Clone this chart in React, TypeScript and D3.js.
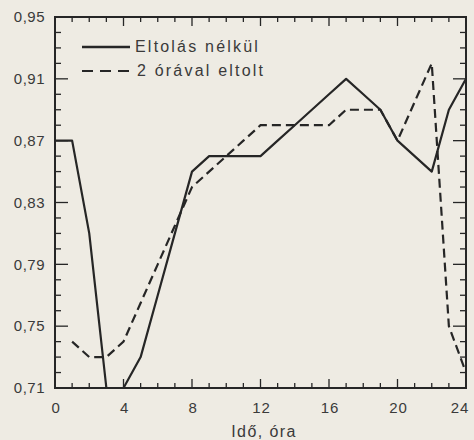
import React from "react";
import * as d3 from "d3";

const hours = [0,1,2,3,4,5,6,7,8,9,10,11,12,13,14,15,16,17,18,19,20,21,22,23,24];
const solidSeries = [0.87,0.87,0.81,0.71,0.71,0.73,0.77,0.81,0.85,0.86,0.86,0.86,0.86,0.87,0.88,0.89,0.90,0.91,0.90,0.89,0.87,0.86,0.85,0.89,0.91];
const dashedSeries = [null,0.74,0.73,0.73,0.74,0.765,0.79,0.815,0.84,0.85,0.86,0.87,0.88,0.88,0.88,0.88,0.88,0.89,0.89,0.89,0.87,0.895,0.92,0.75,0.72];
const xTickLabels = [0,4,8,12,16,20,24];
const yTickLabels = [0.71,0.75,0.79,0.83,0.87,0.91,0.95];
const legendLabels = ["Eltolás nélkül", "2 órával eltolt"];
const xTitle = "Idő, óra";

const W = 474, H = 440;
const INK = "#262626";
const TXT = "#3a3a3a";
const FONT = "'Liberation Sans', Arial, sans-serif";

export default function App() {
  const x = d3.scaleLinear().domain([0, 24]).range([55, 466]);
  const y = d3.scaleLinear().domain([0.71, 0.95]).range([388, 17]);

  const line = d3.line<[number, number | null]>()
    .defined(d => d[1] !== null)
    .x(d => x(d[0]))
    .y(d => y(d[1] as number));

  const solidPath = line(hours.map((h, i) => [h, solidSeries[i]]));
  const dashedPath = line(hours.map((h, i) => [h, dashedSeries[i]]));

  const xMinor = d3.range(0, 25, 1);
  const yMinor = d3.range(0, 25).map(i => +(0.71 + i * 0.01).toFixed(2));
  const isYMajor = (v: number) => yTickLabels.some(t => Math.abs(t - v) < 1e-6);

  const [x0, x1] = x.range();
  const [y0, y1] = y.range(); // y0 bottom, y1 top

  const fmt = (v: number) => v.toFixed(2).replace(".", ",");

  return (
    <svg width={W} height={H} style={{ position: "absolute", left: 0, top: 0, display: "block" }}>
      <rect x={0} y={0} width={W} height={H} fill="#eeebe3" />
      {/* ticks */}
      <g stroke={INK} strokeWidth={1.3}>
        {xMinor.map(h => {
          const major = h % 4 === 0;
          const len = major ? 9 : 5;
          return (
            <g key={"xt" + h}>
              <line x1={x(h)} x2={x(h)} y1={y0} y2={y0 - len} />
              <line x1={x(h)} x2={x(h)} y1={y1} y2={y1 + len} />
            </g>
          );
        })}
        {yMinor.map(v => {
          const major = isYMajor(v);
          const len = major ? 13 : 6;
          return (
            <g key={"yt" + v}>
              <line x1={x0} x2={x0 + len} y1={y(v)} y2={y(v)} />
              <line x1={x1} x2={x1 - len} y1={y(v)} y2={y(v)} />
            </g>
          );
        })}
      </g>
      {/* frame */}
      <rect x={x0} y={y1} width={x1 - x0} height={y0 - y1} fill="none" stroke={INK} strokeWidth={2} />
      {/* data */}
      <path d={solidPath || ""} fill="none" stroke={INK} strokeWidth={2.2} strokeLinejoin="round" />
      <path d={dashedPath || ""} fill="none" stroke={INK} strokeWidth={2.2} strokeDasharray="9 5" />
      {/* y labels */}
      <g fontFamily={FONT} fontSize={15} fill={TXT}>
        {yTickLabels.map(v => (
          <text key={"yl" + v} x={45} y={y(v)} dy="0.35em" textAnchor="end" letterSpacing={0.5}>{fmt(v)}</text>
        ))}
        {xTickLabels.map(h => (
          <text key={"xl" + h} x={Math.min(x(h) + 1, W - 14)} y={413} textAnchor="middle" letterSpacing={0.8}>{h}</text>
        ))}
        <text x={264} y={437} textAnchor="middle" fontSize={16} letterSpacing={1.4}>{xTitle}</text>
      </g>
      {/* legend */}
      <g fontFamily={FONT} fontSize={16} fill={TXT}>
        <line x1={82} x2={130} y1={47} y2={47} stroke={INK} strokeWidth={2.4} />
        <text x={135} y={52} letterSpacing={2.2}>{legendLabels[0]}</text>
        <line x1={82} x2={130} y1={71} y2={71} stroke={INK} strokeWidth={2.2} strokeDasharray="11 7" />
        <text x={137} y={76} letterSpacing={2.2}>{legendLabels[1]}</text>
      </g>
    </svg>
  );
}
